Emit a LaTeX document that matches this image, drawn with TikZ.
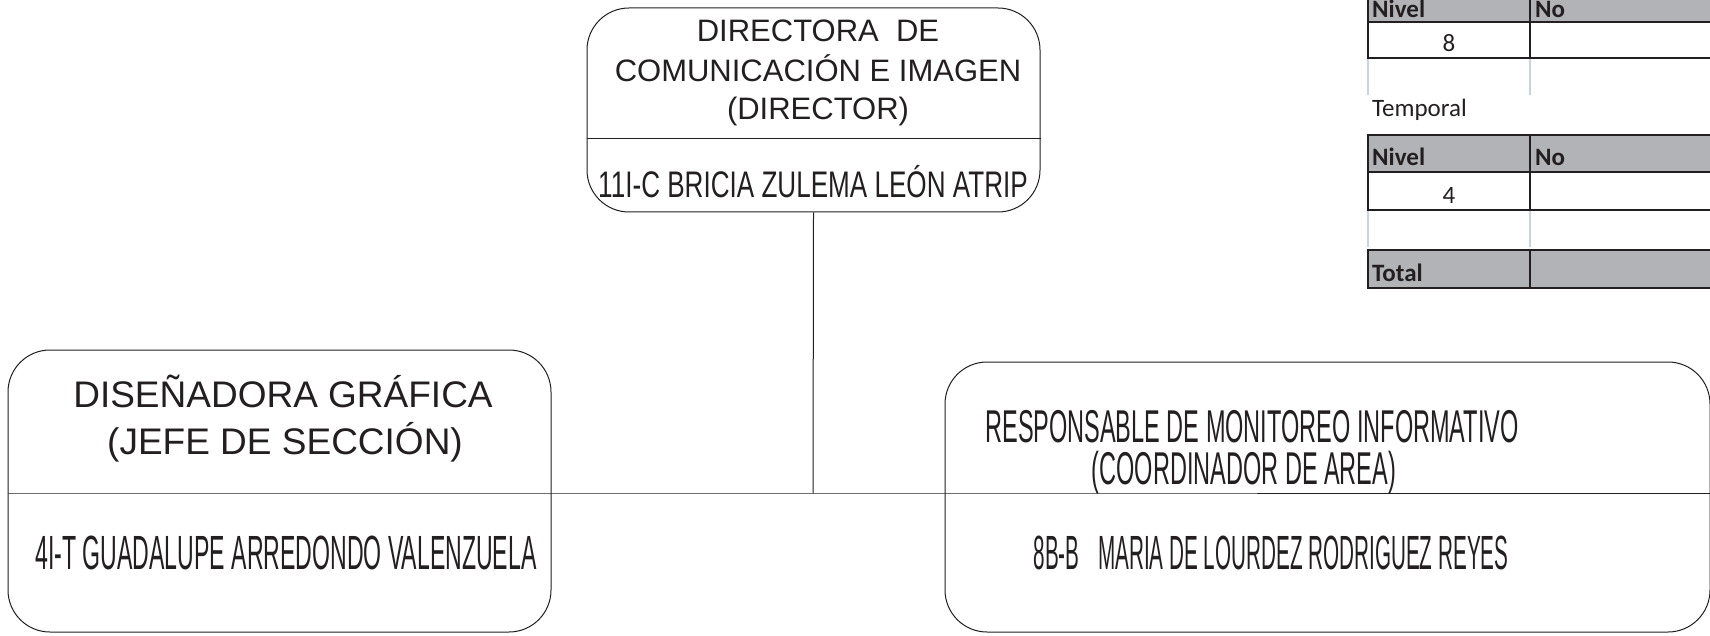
\documentclass[tikz,border=0pt]{standalone}
\usepackage{fontspec}
\setmainfont{Liberation Sans}
\newfontfamily\tablafont{Carlito}
\usetikzlibrary{positioning}
\definecolor{tinta}{RGB}{35,31,32}
\definecolor{gris}{RGB}{178,179,183}
\definecolor{rejilla}{RGB}{200,212,226}
\newcommand{\angosto}[2]{\scalebox{#1}[1]{#2}}

\begin{document}
\begin{tikzpicture}[x=1pt,y=-1pt,
    puesto/.style={draw=tinta, line width=1pt, rounded corners=42pt, inner sep=0pt},
    rotulo/.style={anchor=base, inner sep=0pt, text=tinta},
    tabla/.style={anchor=base west, inner sep=0pt, text=tinta, font=\tablafont\fontsize{25}{25}\selectfont},
    negrita/.style={tabla, font=\tablafont\bfseries\fontsize{25}{25}\selectfont}]
  \useasboundingbox (0,0) rectangle (1710,636);

  % recuadros
  \node[puesto, minimum width=453pt, minimum height=204pt] (dir) at (813.5,110) {};
  \node[puesto, minimum width=543pt, minimum height=282pt] (dis) at (279.5,491) {};
  \node[puesto, minimum width=765pt, minimum height=270pt] (mon) at (1327.5,497) {};
  \coordinate (corte) at (0,139);
  \coordinate (union) at (813,493);
  \draw[tinta, line width=1pt] (dir.west |- corte) -- (dir.east |- corte);
  \draw[tinta, line width=1pt] (dir.south) -- (union);
  \draw[tinta, line width=1pt] (dis.west |- union) -- (union) -- (mon.east |- union);

  % textos
  \begin{scope}[every node/.style={rotulo, font=\fontsize{31}{31}\selectfont}]
    \node (dir1) at (818,42) {DIRECTORA\ \ DE};
    \node (dir2) at (818,82) {COMUNICACIÓN E IMAGEN};
    \node (dir3) at (818,120) {(DIRECTOR)};
    \node (dirn) at (813,198) {\fontsize{37}{37}\selectfont\angosto{0.705}{11I-C BRICIA ZULEMA LEÓN ATRIP}};
  \end{scope}
  \node[rotulo, font=\fontsize{37}{37}\selectfont] (dis1) at (283,407) {DISEÑADORA GRÁFICA};
  \node[rotulo, font=\fontsize{37}{37}\selectfont] (dis2) at (285,454) {(JEFE DE SECCIÓN)};
  \node[rotulo, font=\fontsize{48}{48}\selectfont] (disn) at (286,569) {\angosto{0.481}{4I-T GUADALUPE ARREDONDO VALENZUELA}};
  \node[rotulo, font=\fontsize{46}{46}\selectfont] (mon1) at (1252,442) {\angosto{0.511}{RESPONSABLE DE MONITOREO INFORMATIVO}};
  \node[rotulo, font=\fontsize{46}{46}\selectfont] (mon2) at (1244,484) {\angosto{0.511}{(COORDINADOR DE AREA)}};
  \node[rotulo, font=\fontsize{48}{48}\selectfont] (monn) at (1271,569) {\angosto{0.431}{8B-B\hspace{0.9em}MARIA DE LOURDEZ RODRIGUEZ REYES}};

  % tabla
  \fill[gris] (1368,-10) rectangle (1712,22);
  \fill[gris] (1368,135) rectangle (1712,172);
  \fill[gris] (1368,250) rectangle (1712,288);
  \draw[rejilla, line width=1.2pt] (1368,58) -- (1368,95) (1530,58) -- (1530,95)
    (1368,210) -- (1368,247) (1530,210) -- (1530,247);
  \draw[tinta, line width=2pt] (1368,-10) rectangle (1712,58) (1368,22) -- (1712,22) (1530,-10) -- (1530,58);
  \draw[tinta, line width=2pt] (1368,135) rectangle (1712,210) (1368,172) -- (1712,172) (1530,135) -- (1530,210);
  \draw[tinta, line width=2pt] (1368,250) rectangle (1712,288) (1530,250) -- (1530,288);
  \node[negrita] (niv1) at (1372,18) {Nivel};
  \node[negrita] (num1) at (1535,18) {No};
  \node[tabla, anchor=base] (val1) at (1449,52) {8};
  \node[tabla] (temp) at (1372,117) {Temporal};
  \node[negrita] (niv2) at (1372,166) {Nivel};
  \node[negrita] (num2) at (1535,166) {No};
  \node[tabla, anchor=base] (val2) at (1449,204) {4};
  \node[negrita] (tot) at (1372,282) {Total};
\end{tikzpicture}
\end{document}
